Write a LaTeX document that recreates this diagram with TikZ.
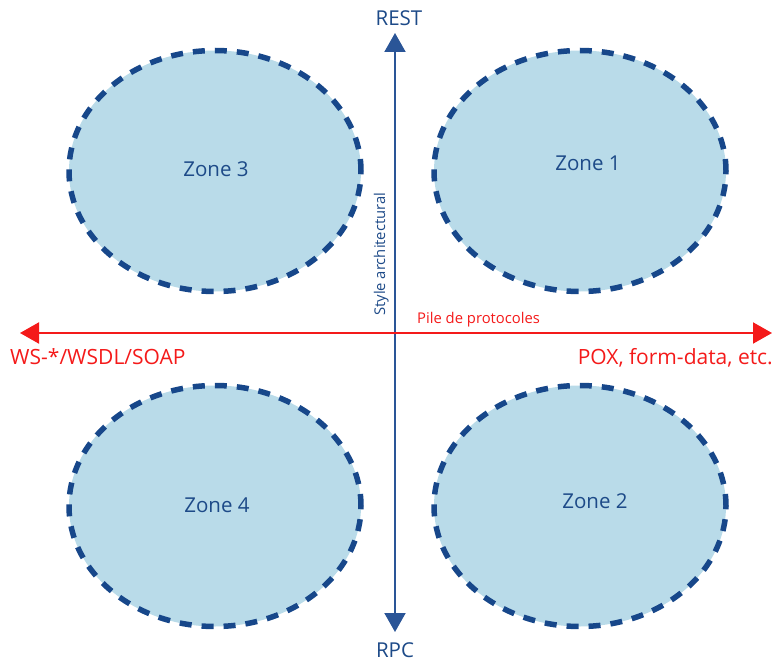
\documentclass[tikz,border=0pt]{standalone}
\usepackage{fontspec}
\setmainfont{Open Sans}
\usetikzlibrary{arrows.meta,shapes.geometric}
\definecolor{zonefill}{HTML}{B9DBE9}
\definecolor{zonedash}{HTML}{17478A}
\definecolor{axisblue}{HTML}{2A5597}
\definecolor{labelblue}{HTML}{1D4A88}
\definecolor{axisred}{HTML}{F41A1A}
\tikzset{
  zone/.style={ellipse, draw=zonedash, fill=zonefill, line width=5.5pt,
    dash pattern=on 12pt off 10pt, minimum width=292pt, minimum height=241pt,
    inner sep=0pt},
  zonetext/.style={text=labelblue, font=\fontsize{20.5}{24}\selectfont},
  bluelabel/.style={text=labelblue, font=\fontsize{20.5}{24}\selectfont, inner sep=0pt},
  redlabel/.style={text=axisred, font=\fontsize{21}{24}\selectfont, inner sep=0pt},
  smalllabel/.style={font=\fontsize{14.8}{17}\selectfont, inner sep=0pt},
  vaxis/.style={draw=axisblue, line width=2pt, {Triangle[length=19pt,width=21pt]}-{Triangle[length=19pt,width=21pt]}},
  haxis/.style={draw=axisred, line width=2pt, {Triangle[length=19pt,width=21pt]}-{Triangle[length=19pt,width=21pt]}},
}
\begin{document}
\begin{tikzpicture}[x=1pt, y=-1pt]
  \useasboundingbox (0,0) rectangle (780,661);

  % four zones
  \node[zone] (z3) at (215,171) {};
  \node[zone] (z1) at (580,171) {};
  \node[zone] (z4) at (215,506) {};
  \node[zone] (z2) at (580,506) {};
  \node[zonetext] (t3) at (216,169) {Zone 3};
  \node[zonetext] (t1) at (588,163) {Zone 1};
  \node[zonetext] (t4) at (217,505) {Zone 4};
  \node[zonetext] (t2) at (595,501) {Zone 2};

  % vertical axis: architectural style
  \coordinate (vtop) at (395,33);
  \coordinate (vbot) at (395,632);
  \draw[vaxis] (vtop) -- (vbot);
  \node[bluelabel, anchor=base] (rest) at (399,26) {REST};
  \node[bluelabel, anchor=base] (rpc) at (395,657) {RPC};
  \node[smalllabel, text=labelblue, rotate=90, anchor=base west] (style)
        at (385,316) {Style architectural};

  % horizontal axis: protocol stack
  \coordinate (hleft) at (20,333);
  \coordinate (hright) at (772,333);
  \draw[haxis] (hleft) -- (hright);
  \node[redlabel, anchor=base west] (ws) at (10,364) {WS-*/WSDL/SOAP};
  \node[redlabel, anchor=base east] (pox) at (773,364) {POX, form-data, etc.};
  \node[smalllabel, text=axisred, anchor=base west] (pile)
        at (417,323) {Pile de protocoles};
\end{tikzpicture}
\end{document}
